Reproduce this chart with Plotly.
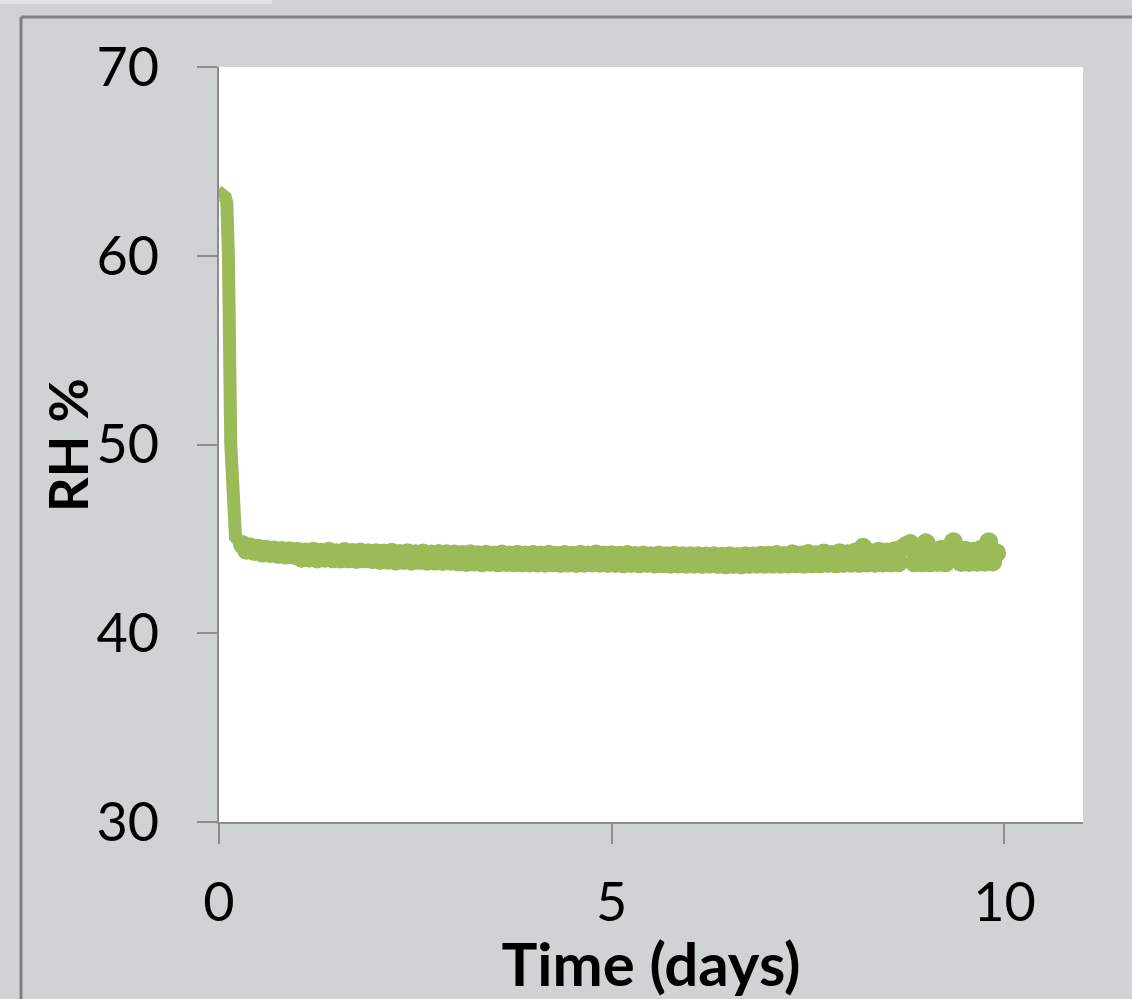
import plotly.graph_objects as go

# Time (days) and RH (%)
start_days = [0.02, 0.05, 0.08, 0.10, 0.12, 0.15, 0.18, 0.21, 0.25, 0.30]
start_rh = [63.0, 63.2, 63.1, 62.8, 60.0, 50.0, 45.6, 45.1, 44.9, 44.7]

time_days = [
    0.30, 0.35, 0.40, 0.45, 0.50, 0.55, 0.60, 0.65, 0.70, 0.75, 0.80, 0.85, 0.90, 0.95,
    1.00, 1.05, 1.10, 1.15, 1.20, 1.25, 1.30, 1.35, 1.40, 1.45, 1.50, 1.55, 1.60, 1.65, 1.70, 1.75, 1.80, 1.85, 1.90, 1.95,
    2.00, 2.05, 2.10, 2.15, 2.20, 2.25, 2.30, 2.35, 2.40, 2.45, 2.50, 2.55, 2.60, 2.65, 2.70, 2.75, 2.80, 2.85, 2.90, 2.95,
    3.00, 3.05, 3.10, 3.15, 3.20, 3.25, 3.30, 3.35, 3.40, 3.45, 3.50, 3.55, 3.60, 3.65, 3.70, 3.75, 3.80, 3.85, 3.90, 3.95,
    4.00, 4.05, 4.10, 4.15, 4.20, 4.25, 4.30, 4.35, 4.40, 4.45, 4.50, 4.55, 4.60, 4.65, 4.70, 4.75, 4.80, 4.85, 4.90, 4.95,
    5.00, 5.05, 5.10, 5.15, 5.20, 5.25, 5.30, 5.35, 5.40, 5.45, 5.50, 5.55, 5.60, 5.65, 5.70, 5.75, 5.80, 5.85, 5.90, 5.95,
    6.00, 6.05, 6.10, 6.15, 6.20, 6.25, 6.30, 6.35, 6.40, 6.45, 6.50, 6.55, 6.60, 6.65, 6.70, 6.75, 6.80, 6.85, 6.90, 6.95,
    7.00, 7.05, 7.10, 7.15, 7.20, 7.25, 7.30, 7.35, 7.40, 7.45, 7.50, 7.55, 7.60, 7.65, 7.70, 7.75, 7.80, 7.85, 7.90, 7.95,
    8.00, 8.05, 8.10, 8.15, 8.20, 8.25, 8.30, 8.35, 8.40, 8.45, 8.50, 8.55, 8.60, 8.65, 8.70, 8.75, 8.80, 8.85, 8.90, 8.95,
    9.00, 9.05, 9.10, 9.15, 9.20, 9.25, 9.30, 9.35, 9.40, 9.45, 9.50, 9.55, 9.60, 9.65, 9.70, 9.75, 9.80, 9.85, 9.90,
]
rh_pct = [
    44.7, 44.4, 44.57, 44.33, 44.5, 44.25, 44.45, 44.23, 44.41, 44.17, 44.39, 44.15, 44.37, 44.13,
    44.35, 43.97, 44.31, 43.99, 44.35, 43.94, 44.29, 43.97, 44.35, 43.95, 44.27, 43.93, 44.33, 43.95, 44.28, 43.91, 44.31, 43.95, 44.26, 43.9,
    44.27, 43.85, 44.25, 43.87, 44.29, 43.83, 44.23, 43.85, 44.26, 43.82, 44.21, 43.85, 44.25, 43.81, 44.2, 43.83, 44.23, 43.8, 44.21, 43.81,
    44.2, 43.77, 44.17, 43.75, 44.21, 43.77, 44.16, 43.74, 44.19, 43.76, 44.15, 43.73, 44.2, 43.75, 44.15, 43.73, 44.18, 43.74, 44.15, 43.72,
    44.17, 43.72, 44.15, 43.71, 44.19, 43.73, 44.13, 43.7, 44.17, 43.72, 44.13, 43.7, 44.19, 43.71, 44.15, 43.72, 44.2, 43.71, 44.15, 43.7,
    44.16, 43.69, 44.13, 43.68, 44.17, 43.7, 44.12, 43.68, 44.15, 43.69, 44.11, 43.67, 44.14, 43.68, 44.1, 43.66, 44.13, 43.67, 44.1, 43.66,
    44.1, 43.65, 44.11, 43.64, 44.09, 43.66, 44.11, 43.64, 44.08, 43.63, 44.1, 43.64, 44.07, 43.63, 44.11, 43.64, 44.09, 43.65, 44.13, 43.66,
    44.13, 43.66, 44.17, 43.66, 44.12, 43.67, 44.21, 43.68, 44.14, 43.66, 44.23, 43.68, 44.16, 43.68, 44.25, 43.69, 44.17, 43.68, 44.27, 43.7,
    44.21, 43.71, 44.3, 43.7, 44.55, 43.72, 44.27, 43.71, 44.35, 43.72, 44.31, 43.72, 44.37, 43.74, 44.5, 44.65, 44.75, 43.74, 44.45, 43.74,
    44.8, 43.74, 44.4, 43.75, 44.45, 43.74, 44.37, 44.85, 44.35, 43.75, 44.4, 43.75, 44.35, 43.76, 44.45, 43.76, 44.85, 43.78, 44.25,
]

x_ticks = [0, 5, 10]
y_ticks = [30, 40, 50, 60, 70]

BG = "#cfd3d4"
AX = "#8c8c8c"
GREEN = "#9bbb59"
FONT = "Lato"

fig = go.Figure()
# initial plateau and drop (thick line only)
fig.add_trace(go.Scatter(
    x=start_days, y=start_rh, mode="lines",
    line=dict(color=GREEN, width=13),
    showlegend=False, hoverinfo="skip"))
# noisy plateau (dense points form a thick band)
fig.add_trace(go.Scatter(
    x=time_days, y=rh_pct, mode="lines+markers",
    line=dict(color=GREEN, width=10),
    marker=dict(color=GREEN, size=19, line=dict(width=0)),
    showlegend=False, hoverinfo="skip"))

fig.update_layout(
    width=1132, height=999,
    paper_bgcolor=BG, plot_bgcolor="white",
    margin=dict(l=219, r=49, t=67, b=177),
    font=dict(family=FONT, color="black"),
    xaxis=dict(range=[0, 11], tickvals=x_ticks, ticktext=[str(v) for v in x_ticks],
               showgrid=False, zeroline=False, showline=True, linecolor=AX, linewidth=2,
               ticks="outside", ticklen=20, tickcolor=AX, tickwidth=2,
               tickfont=dict(size=54, family=FONT), ticklabelstandoff=12,
               title=dict(text="<b>Time (days)</b>", font=dict(size=60, family=FONT), standoff=0)),
    yaxis=dict(range=[30, 70], tickvals=y_ticks, ticktext=[str(v) for v in y_ticks],
               showgrid=False, zeroline=False, showline=True, linecolor=AX, linewidth=2,
               ticks="outside", ticklen=20, tickcolor=AX, tickwidth=2,
               tickfont=dict(size=54, family=FONT), ticklabelstandoff=27),
    annotations=[dict(text="<b>RH %</b>", xref="paper", yref="paper",
                      x=(67 - 219) / 864, y=(822 - 445) / 755,
                      xanchor="center", yanchor="middle", textangle=-90, showarrow=False,
                      font=dict(size=54, family=FONT, color="black"))],
    shapes=[
        dict(type="rect", xref="paper", yref="paper",
             x0=(0 - 219) / 864, x1=(272 - 219) / 864,
             y0=(822 - 4) / 755, y1=(822 - 0) / 755,
             fillcolor="#e4e4e4", line=dict(width=0), layer="below"),
        dict(type="line", xref="paper", yref="paper",
             x0=(21 - 219) / 864, x1=(1132 - 219) / 864,
             y0=(822 - 17) / 755, y1=(822 - 17) / 755,
             line=dict(color="#808080", width=3)),
        dict(type="line", xref="paper", yref="paper",
             x0=(21 - 219) / 864, x1=(21 - 219) / 864,
             y0=(822 - 17) / 755, y1=(822 - 999) / 755,
             line=dict(color="#808080", width=3)),
    ],
)

fig.write_html("out.html", config={"displayModeBar": False},
               post_script="document.body.style.margin='0';")
